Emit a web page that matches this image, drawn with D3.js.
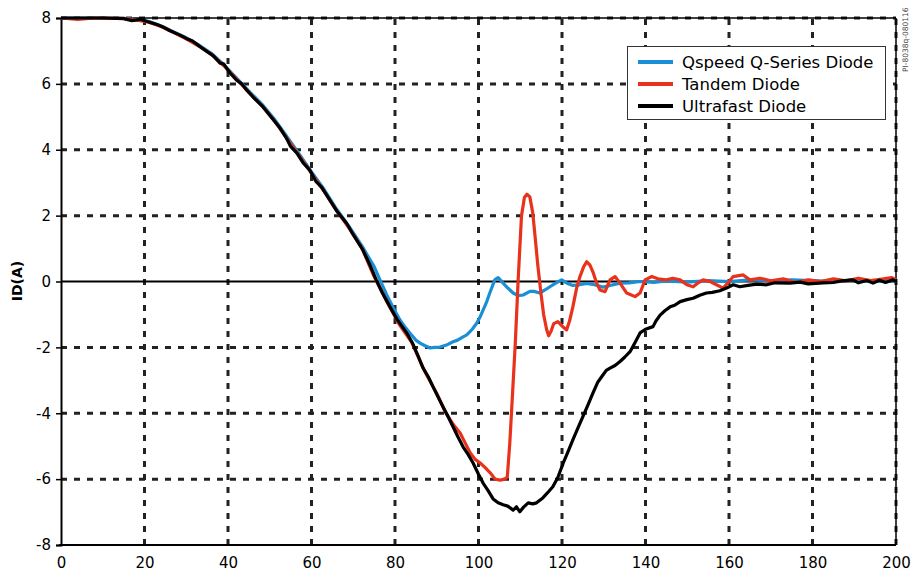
<!DOCTYPE html>
<html><head><meta charset="utf-8">
<script src="https://cdn.jsdelivr.net/npm/d3@7/dist/d3.min.js"></script>
<style>body{margin:0;background:#fff}svg{display:block}</style>
</head><body>
<svg id="c" width="911" height="574"></svg>
<script>
const xTicks = [0,20,40,60,80,100,120,140,160,180,200];
const yTicks = [-8,-6,-4,-2,0,2,4,6,8];
const seriesNames = ["Qspeed Q-Series Diode","Tandem Diode","Ultrafast Diode"];
const seriesColors = ["#1a8fd6","#e8321c","#000000"];

const ultrafast = [[0,8.0],[10,8.0],[15,7.98],[17,7.92],[19,7.96],[21,7.88],[23,7.8],[24.4,7.73],[26,7.62],[28.5,7.48],[30,7.38],[31.5,7.3],[33.3,7.13],[35,6.98],[36.5,6.85],[38.1,6.63],[39,6.6],[40.5,6.33],[42,6.12],[43.3,6.0],[44.5,5.81],[46,5.6],[48.4,5.3],[50,5.05],[52.5,4.65],[54,4.35],[55,4.1],[56.5,3.9],[58,3.6],[59.6,3.38],[61,3.05],[62.5,2.85],[64.4,2.47],[66,2.15],[68.4,1.77],[70,1.42],[72.3,0.96],[74,0.5],[75.5,0.05],[77,-0.35],[78.8,-0.77],[80.5,-1.15],[81.9,-1.4],[83,-1.6],[84.3,-1.9],[85.5,-2.25],[86.7,-2.62],[88,-2.9],[89.1,-3.19],[90.3,-3.5],[91.5,-3.8],[92.7,-4.1],[93.9,-4.41],[95,-4.7],[96.3,-5.02],[97.5,-5.25],[98.7,-5.51],[100,-5.85],[101.1,-6.12],[102.3,-6.35],[103.5,-6.6],[104.7,-6.72],[105.9,-6.78],[107,-6.82],[108.3,-6.94],[109.1,-6.84],[109.9,-6.99],[110.8,-6.85],[111.9,-6.72],[113,-6.75],[113.9,-6.72],[115.4,-6.57],[116.5,-6.42],[117.8,-6.23],[119,-5.95],[120.3,-5.51],[121.5,-5.15],[122.6,-4.81],[123.8,-4.45],[125,-4.1],[126.2,-3.75],[127.4,-3.39],[128.6,-3.05],[129.8,-2.84],[130.6,-2.7],[131.5,-2.63],[132.7,-2.55],[133.9,-2.43],[135,-2.3],[136.3,-2.13],[137.5,-1.85],[138.7,-1.56],[140,-1.45],[141.8,-1.37],[142.5,-1.2],[143.5,-1.02],[144.7,-0.88],[145.9,-0.77],[147,-0.72],[148.3,-0.61],[149.9,-0.55],[151.4,-0.51],[153,-0.42],[154.6,-0.35],[156,-0.33],[157.8,-0.28],[159.4,-0.2],[161,-0.1],[162.6,-0.16],[164.5,-0.12],[166.6,-0.08],[169,-0.1],[171,-0.04],[174.6,-0.05],[177,-0.02],[179,-0.07],[182.5,-0.04],[185,-0.03],[187,0.02],[189.7,0.05],[191,-0.04],[193,0.03],[194.5,-0.05],[196,0.04],[197.5,-0.03],[199.3,0.05],[200,0.0]];

const qspeed = [[0,8.0],[10,8.0],[15,7.99],[18,7.95],[21,7.9],[24,7.76],[27,7.58],[30,7.4],[33,7.18],[36,6.93],[39,6.58],[42,6.18],[45,5.78],[48,5.4],[51,4.95],[54,4.42],[57,3.88],[60,3.33],[63,2.8],[66,2.2],[69,1.67],[72,1.1],[75,0.45],[76.4,0.05],[78,-0.4],[80,-0.9],[81.2,-1.17],[82.5,-1.4],[83.6,-1.57],[85,-1.78],[86,-1.87],[87.2,-1.95],[88.4,-2.02],[89.5,-2.0],[90.8,-1.99],[92.3,-1.93],[93.9,-1.83],[95,-1.78],[96.3,-1.68],[97.2,-1.62],[98.5,-1.45],[99.6,-1.26],[100.4,-1.07],[101.1,-0.87],[102,-0.6],[102.7,-0.35],[103.9,0.05],[104.7,0.12],[105.9,-0.05],[106.7,-0.16],[108.3,-0.35],[109.5,-0.43],[110.7,-0.41],[112.3,-0.3],[113.3,-0.3],[114.7,-0.35],[116,-0.25],[117.1,-0.16],[118.5,-0.05],[119.9,0.05],[121.2,-0.05],[122.6,-0.12],[124.2,-0.1],[125.9,-0.06],[127.8,-0.1],[129.8,-0.17],[131.5,-0.12],[133.9,-0.05],[136,-0.04],[138.7,0.0],[142,-0.03],[145,0.02],[150,-0.02],[155,0.03],[160,0.0],[165,0.05],[170,0.02],[175,0.05],[180,0.03],[185,0.0],[190,0.05],[195,0.0],[200,0.02]];

const tandem = [[0,8.0],[4,7.96],[8,8.0],[15,7.99],[18,7.94],[21,7.87],[24,7.74],[27,7.56],[30,7.37],[33,7.15],[36,6.9],[39,6.55],[42,6.15],[45,5.74],[48,5.35],[51,4.9],[54,4.36],[57,3.83],[60,3.28],[63,2.74],[66,2.15],[69,1.62],[72,1.03],[75,0.15],[78,-0.6],[81,-1.3],[84,-1.85],[87,-2.7],[90,-3.4],[92,-3.95],[94,-4.35],[95.6,-4.6],[96.8,-4.9],[98,-5.2],[99.2,-5.4],[100.4,-5.51],[101.6,-5.65],[102.8,-5.81],[104,-6.0],[105.2,-6.03],[106.3,-6.0],[106.9,-5.93],[107.5,-4.9],[108.2,-3.3],[108.8,-1.9],[109.5,0.05],[110.3,2.0],[111,2.55],[111.6,2.65],[112.3,2.57],[113,2.08],[113.6,1.3],[114.2,0.5],[115,-0.4],[115.6,-1.0],[116.3,-1.45],[116.8,-1.65],[117.4,-1.5],[118,-1.28],[119,-1.22],[120,-1.35],[121.1,-1.47],[121.8,-1.2],[122.6,-0.77],[123.5,-0.2],[124.3,0.15],[125.2,0.45],[125.9,0.6],[126.7,0.5],[127.5,0.26],[128.3,-0.05],[129.1,-0.26],[130.3,-0.31],[131.5,0.05],[132.7,0.15],[133.9,-0.05],[135.5,-0.35],[137.5,-0.46],[138.7,-0.35],[139.9,0.05],[141.5,0.15],[143,0.08],[145,0.05],[146.5,0.1],[148.3,0.05],[149.9,-0.1],[151.4,-0.16],[152.5,-0.05],[153.8,0.05],[155.5,0.0],[157,-0.1],[158.6,-0.2],[160,0.0],[161,0.15],[163.4,0.2],[165,0.05],[167.4,0.1],[170,0.02],[173,0.08],[176,-0.03],[179,0.05],[182,0.0],[185,0.08],[188,0.02],[191,0.1],[194,0.03],[197,0.08],[199,0.12],[200,0.05]];

const svg = d3.select("#c");
const L=61,R=896,T=18,B=545;
const x = d3.scaleLinear().domain([0,200]).range([L,R]);
const y = d3.scaleLinear().domain([-8,8]).range([B,T]);
const font = "'DejaVu Sans', Verdana, sans-serif";

// gridlines
const grid = svg.append("g").attr("stroke","#222").attr("stroke-width",3).attr("stroke-dasharray","6,7");
grid.selectAll(".gv").data(xTicks.filter(d=>d>0)).join("line")
  .attr("x1",d=>x(d)).attr("x2",d=>x(d)).attr("y1",B).attr("y2",T);
grid.selectAll(".gh").data(yTicks.filter(d=>d!==0 && d!==-8)).join("line")
  .attr("x1",L).attr("x2",R).attr("y1",d=>y(d)).attr("y2",d=>y(d));

// border top/right
svg.append("line").attr("x1",L).attr("x2",R).attr("y1",T).attr("y2",T).attr("stroke","#000").attr("stroke-width",1.5);
svg.append("line").attr("x1",R).attr("x2",R).attr("y1",T).attr("y2",B).attr("stroke","#000").attr("stroke-width",1.5);
// zero line
svg.append("line").attr("x1",L).attr("x2",R).attr("y1",y(0)).attr("y2",y(0)).attr("stroke","#000").attr("stroke-width",2);

// axes
const fmt = d => String(d);
const yAxis = svg.append("g").attr("transform",`translate(${L},0)`)
  .call(d3.axisLeft(y).tickValues(yTicks).tickSize(5).tickPadding(5).tickFormat(fmt));
const xAxis = svg.append("g").attr("transform",`translate(0,${B})`)
  .call(d3.axisBottom(x).tickValues(xTicks).tickSize(0).tickPadding(12).tickFormat(fmt));
[yAxis,xAxis].forEach(a=>{
  a.select(".domain").attr("stroke","#000").attr("stroke-width",2);
  a.selectAll(".tick line").attr("stroke","#000").attr("stroke-width",1.5);
  a.selectAll("text").attr("font-family",font).attr("font-size",15).attr("fill","#000");
});
xAxis.select(".domain").attr("d",`M${L-2},0H${R}`);

// series
const line = d3.line().x(d=>x(d[0])).y(d=>y(d[1])).curve(d3.curveLinear);
const data = [qspeed, tandem, ultrafast];
svg.append("g").selectAll("path").data(data).join("path")
  .attr("d",line).attr("fill","none")
  .attr("stroke",(d,i)=>seriesColors[i]).attr("stroke-width",3.2).attr("stroke-linejoin","round");

// y label
svg.append("text").attr("transform","translate(22,281) rotate(-90)")
  .attr("text-anchor","middle").attr("font-family",font).attr("font-weight","bold")
  .attr("font-size",14).text("ID(A)");

// legend
const lg = svg.append("g");
lg.append("rect").attr("x",627.5).attr("y",46.5).attr("width",258).attr("height",73)
  .attr("fill","#fff").attr("stroke","#333").attr("stroke-width",1);
seriesNames.forEach((n,i)=>{
  const yy = 62 + i*22;
  lg.append("line").attr("x1",638).attr("x2",673).attr("y1",yy).attr("y2",yy)
    .attr("stroke",seriesColors[i]).attr("stroke-width",4);
  lg.append("text").attr("x",682).attr("y",yy).attr("dy","0.36em")
    .attr("font-family",font).attr("font-size",16.5).attr("fill","#000").text(n);
});

// side note
svg.append("text").attr("transform","translate(908,72) rotate(-90)")
  .attr("font-family",font).attr("font-size",7.5).attr("fill","#444").text("PI-8038q-080116");
</script>
</body></html>
